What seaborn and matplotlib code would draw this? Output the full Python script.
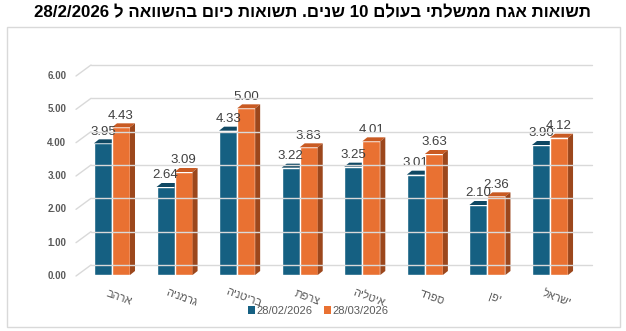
import re
import matplotlib
matplotlib.use("Agg")
import matplotlib.pyplot as plt
import seaborn as sns
import pandas as pd
from matplotlib.patches import Polygon, Rectangle
from matplotlib.lines import Line2D
from matplotlib.transforms import ScaledTranslation, IdentityTransform

# ---------------- data ----------------
title = "תשואות אגח ממשלתי בעולם 10 שנים. תשואות כיום בהשוואה ל 28/2/2026"
categories = ["ארהב", "גרמניה", "בריטניה", "צרפת", "איטליה", "ספרד", "יפן", "ישראל"]
series_names = ["28/02/2026", "28/03/2026"]
values_feb = [3.95, 2.64, 4.33, 3.22, 3.25, 3.01, 2.10, 3.90]
values_mar = [4.43, 3.09, 5.00, 3.83, 4.01, 3.63, 2.36, 4.12]
yticks = [0, 1, 2, 3, 4, 5, 6]

colors = ["#156082", "#E97132"]
top_colors = ["#0f4863", "#c95a22"]
side_colors = ["#0c3d55", "#9c471c"]


def vis(s):
    """Convert logical RTL string to visual order (keeping numbers LTR)."""
    parts = re.findall(r"\d[\d/.]*\d|\d|[^\d]+", s)
    out = []
    for p in reversed(parts):
        out.append(p if p[0].isdigit() else p[::-1])
    return "".join(out)


df = pd.DataFrame({
    "country": categories * 2,
    "series": [series_names[0]] * len(categories) + [series_names[1]] * len(categories),
    "value": values_feb + values_mar,
})

sns.set_theme(style="white")
plt.rcParams["font.family"] = ["Liberation Sans", "DejaVu Sans"]

W, H = 626, 331
fig = plt.figure(figsize=(W / 100, H / 100), dpi=100)
fig.patch.set_facecolor("white")

# chart border
fig.add_artist(Rectangle((7 / W, (H - 327) / H), (620 - 7) / W, (327 - 27) / H,
                         transform=fig.transFigure, fill=False,
                         edgecolor="#d9d9d9", lw=1.0))

fig.text(313 / W, 1 - 13 / H, vis(title), ha="center", va="center",
         fontsize=12.2, fontweight="bold", color="#000000")

ax = fig.add_axes([76 / W, (H - 275) / H, (592 - 76) / W, 200 / H])
sns.barplot(data=df, x="country", y="value", hue="series", order=categories,
            hue_order=series_names, palette=colors, saturation=1, width=0.576,
            errorbar=None, ax=ax, zorder=3)

ax.set_xlim(-0.575, 7.671)
ax.set_ylim(0, 6)
for s in ax.spines.values():
    s.set_visible(False)
ax.set_xlabel("")
ax.set_ylabel("")
ax.set_facecolor("none")
ax.grid(False)

# y ticks
ax.set_yticks(yticks)
ax.set_yticklabels([f"{v:.2f}" for v in yticks], fontsize=7, fontweight="bold",
                   color="#595959")
ax.tick_params(axis="y", length=0, pad=7)
ax.tick_params(axis="x", length=0)
ax.set_xticks(range(len(categories)))
ax.set_xticklabels([])

# category labels (rotated)
off = ax.get_xaxis_transform() + ScaledTranslation(7 / 100, -23 / 100, fig.dpi_scale_trans)
for i, c in enumerate(categories):
    ax.text(i, 0, vis(c), transform=off, rotation=-20, ha="center", va="center",
            rotation_mode="anchor", fontsize=8, color="#595959")

# 3-D style gridlines (back wall + left diagonal)
fig.canvas.draw()
dx_g, dy_g = 15, 10
x_left = ax.transAxes.transform((0, 0))[0]
x_right = ax.transAxes.transform((1, 0))[0]
for v in yticks:
    yd = ax.transData.transform((0, v))[1]
    fig.add_artist(Line2D([x_left + dx_g, x_right], [yd + dy_g, yd + dy_g],
                          transform=IdentityTransform(), color="#d9d9d9", lw=1.0, zorder=0.5))
    fig.add_artist(Line2D([x_left, x_left + dx_g], [yd - 1, yd + dy_g],
                          transform=IdentityTransform(), color="#d9d9d9", lw=1.0, zorder=0.5))

# 3-D bar faces
dx, dy = 5, 4
for k, cont in enumerate(ax.containers):
    for bar in cont:
        bar.set_zorder(3 + 2 * k)
        x0, y0 = bar.get_x(), bar.get_y()
        x1, y1 = x0 + bar.get_width(), y0 + bar.get_height()
        (px0, py0) = ax.transData.transform((x0, y0))
        (px1, py1) = ax.transData.transform((x1, y1))
        top = Polygon([(px0, py1), (px1, py1), (px1 + dx, py1 + dy), (px0 + dx, py1 + dy)],
                      closed=True, transform=IdentityTransform(), facecolor=top_colors[k],
                      edgecolor="none", zorder=3.5 + 2 * k)
        side = Polygon([(px1, py0), (px1 + dx, py0 + dy), (px1 + dx, py1 + dy), (px1, py1)],
                       closed=True, transform=IdentityTransform(), facecolor=side_colors[k],
                       edgecolor="none", zorder=3.5 + 2 * k)
        ax.add_artist(top)
        ax.add_artist(side)
    ax.bar_label(cont, fmt="%.2f", padding=4, fontsize=9.5, fontweight="medium",
                 color="#404040", zorder=10)

# legend
handles = [Rectangle((0, 0), 1, 1, facecolor=c, edgecolor="none") for c in colors]
leg = ax.get_legend()
if leg is not None:
    leg.remove()
fig.legend(handles, series_names, loc="center", bbox_to_anchor=(318 / W, (H - 311) / H),
           ncol=2, frameon=False, fontsize=8, handlelength=0.65, handleheight=0.65,
           handletextpad=0.15, columnspacing=1.0, labelcolor="#595959")

fig.savefig("out.png", dpi=100, facecolor="white")
